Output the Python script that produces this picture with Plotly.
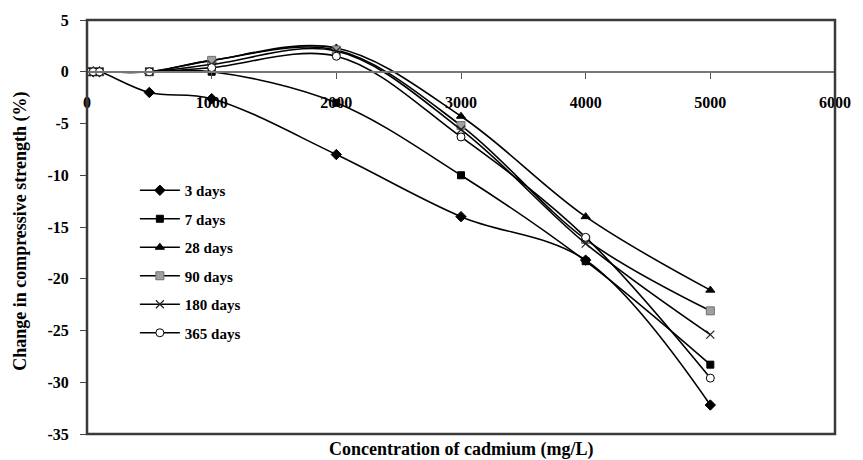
import plotly.graph_objects as go

concentration = [0, 50, 100, 500, 1000, 2000, 3000, 4000, 5000]
days_3 = [0, 0, 0, -2.0, -2.6, -8.0, -14.0, -18.2, -32.2]
days_7 = [0, 0, 0, 0, 0, -3.0, -10.0, -18.3, -28.3]
days_28 = [0, 0, 0, 0, 1.1, 2.3, -4.3, -14.0, -21.1]
days_90 = [0, 0, 0, 0, 1.1, 2.1, -5.2, -16.2, -23.1]
days_180 = [0, 0, 0, 0, 0.7, 2.0, -5.6, -16.6, -25.4]
days_365 = [0, 0, 0, 0, 0.4, 1.5, -6.3, -16.0, -29.6]

series_names = ["3 days", "7 days", "28 days", "90 days", "180 days", "365 days"]
series_values = [days_3, days_7, days_28, days_90, days_180, days_365]

x_ticks = [0, 1000, 2000, 3000, 4000, 5000, 6000]
y_ticks = [5, 0, -5, -10, -15, -20, -25, -30, -35]

styles = [
    dict(symbol="diamond", size=8, color="black", line=dict(color="black", width=1)),
    dict(symbol="square", size=7, color="black", line=dict(color="black", width=1)),
    dict(symbol="triangle-up", size=8, color="black", line=dict(color="black", width=1)),
    dict(symbol="square", size=8, color="#a0a0a0", line=dict(color="#707070", width=1)),
    dict(symbol="x-thin-open", size=8, color="#222222", line=dict(color="#222222", width=1.2)),
    dict(symbol="circle", size=8, color="white", line=dict(color="black", width=1)),
]

FONT = "Liberation Serif"

fig = go.Figure()
for name, vals, st in zip(series_names, series_values, styles):
    fig.add_trace(go.Scatter(
        x=concentration, y=vals, name=name, mode="lines+markers",
        legendgroup=name,
        line=dict(color="black", width=1.6, shape="spline", smoothing=1),
        marker=st,
    ))

fig.update_layout(
    width=863, height=460,
    margin=dict(l=87, r=24, t=19, b=26),
    paper_bgcolor="white", plot_bgcolor="white",
    font=dict(family=FONT, color="black"),
    showlegend=True,
    legend=dict(
        x=0.064, y=0.628, xanchor="left", yanchor="top",
        bgcolor="rgba(0,0,0,0)", borderwidth=0,
        font=dict(family=FONT, size=15, color="black", weight="bold"),
        tracegroupgap=6, itemwidth=40,
    ),
    xaxis=dict(
        range=[0, 6000], tickvals=x_ticks, ticktext=[str(v) for v in x_ticks],
        anchor="free", position=0.875,
        showgrid=False, zeroline=False,
        showline=True, linecolor="#777777", linewidth=1.5,
        ticks="outside", ticklen=6, tickcolor="#555555", tickwidth=1,
        ticklabelstandoff=10,
        tickfont=dict(family=FONT, size=16, color="black", weight="bold"),
    ),
    yaxis=dict(
        range=[-35, 5], tickvals=y_ticks, ticktext=[str(v) for v in y_ticks],
        showgrid=False, zeroline=False, showline=False,
        ticks="outside", ticklen=6, tickcolor="#444444", tickwidth=1,
        ticklabelstandoff=8,
        tickfont=dict(family=FONT, size=16, color="black", weight="bold"),
    ),
    shapes=[dict(type="rect", xref="paper", yref="paper", x0=0, x1=1, y0=0, y1=1,
                 line=dict(color="#3a3a3a", width=2.5), layer="above")],
    annotations=[
        dict(text="Concentration of cadmium (mg/L)", xref="paper", yref="paper",
             x=0.5, y=0, yshift=-15, xanchor="center", yanchor="middle", showarrow=False,
             font=dict(family=FONT, size=18, color="black", weight="bold")),
        dict(text="Change in compressive strength (%)", xref="paper", yref="paper",
             x=0, xshift=-67, y=0.49, textangle=-90, xanchor="center", yanchor="middle",
             showarrow=False, width=340,
             font=dict(family=FONT, size=18, color="black", weight="bold")),
    ],
)

fig.write_html("out.html")
